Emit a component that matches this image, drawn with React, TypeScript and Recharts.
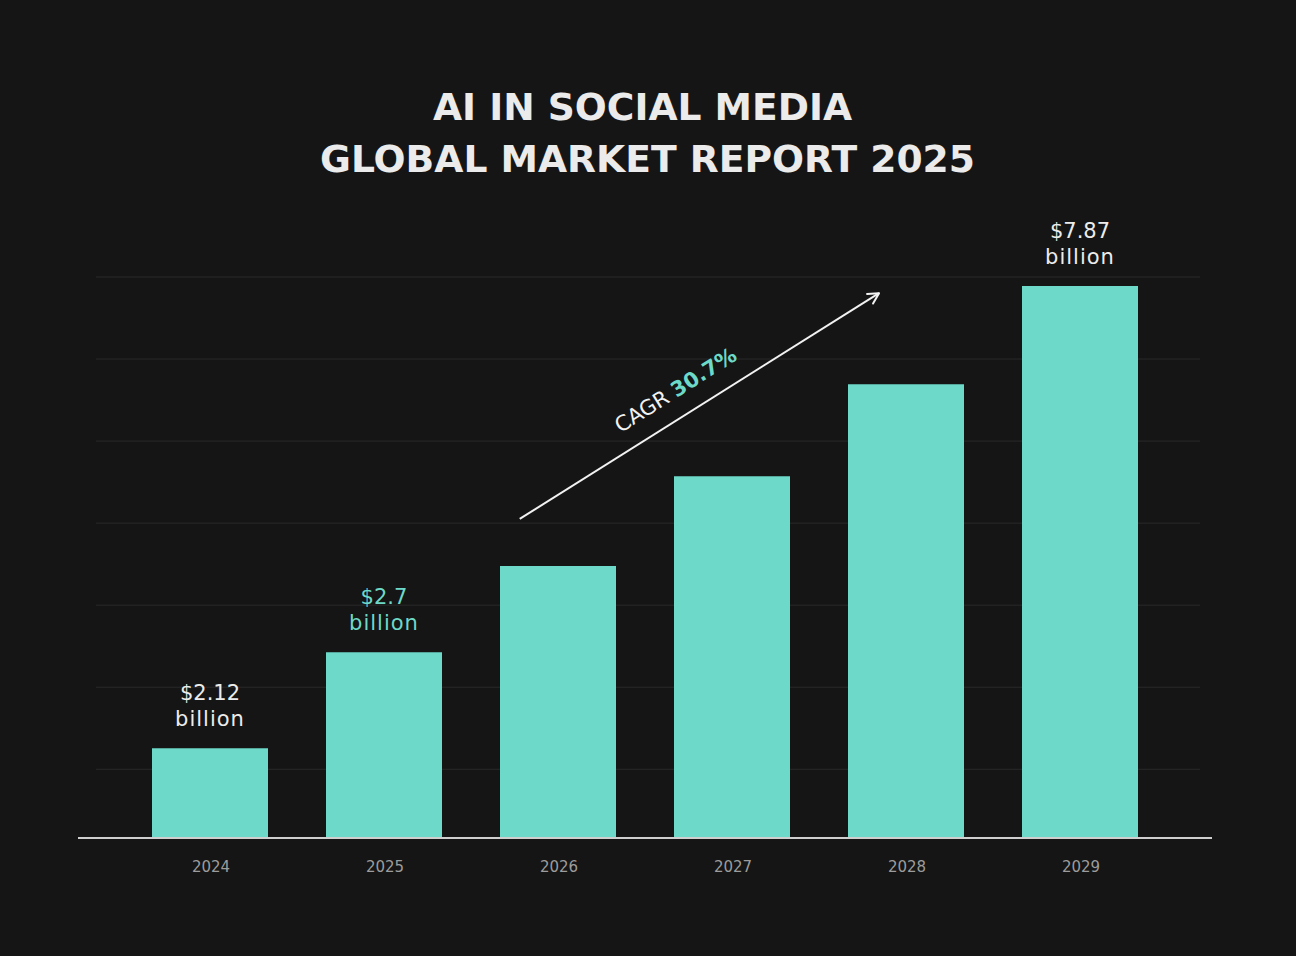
import React from 'react';
import { ComposedChart, Bar, XAxis, YAxis, ReferenceLine, LabelList } from 'recharts';

// ---- data ----
const years = ['2024', '2025', '2026', '2027', '2028', '2029'];
// bar heights as drawn (USD billion scale of the picture)
const barHeights = [1.28, 2.65, 3.88, 5.16, 6.47, 7.87];
const valueLabels = ['$2.12', '$2.7', '', '', '', '$7.87'];
const valueUnit = 'billion';
const labelColors = ['#ececec', '#6dd9c8', '', '', '', '#ececec'];
const slots = [0.5, 1.5, 2.5, 3.5, 4.5, 5.5];
const gridValues = [0.98, 2.15, 3.32, 4.49, 5.66, 6.83, 8];
const titleLines = ['AI IN SOCIAL MEDIA', 'GLOBAL MARKET REPORT 2025'];
const cagrLabel = 'CAGR';
const cagrValue = '30.7%';
const arrowStart = { x: 2.28, y: 4.55 };
const arrowEnd = { x: 4.345, y: 7.77 };
const gridExtent = [-0.155, 6.19];

const FONT = '"DejaVu Sans", "Open Sans", sans-serif';
const TEAL = '#6dd9c8';
const BG = '#151515';

const data = years.map((year, i) => ({ year, slot: slots[i], value: barHeights[i] }));

const renderValueLabel = (props: any) => {
  const { x, y, width } = props;
  let index = props.index;
  if (index === undefined || index === null) {
    index = barHeights.indexOf(Number(props.value));
  }
  const text = valueLabels[index];
  if (!text) return null;
  const cx = Number(x) + Number(width) / 2;
  const top = Number(y);
  return (
    <g>
      <text x={cx} y={top - 48} textAnchor="middle" fill={labelColors[index]} fontSize={21} fontFamily={FONT}>
        {text}
      </text>
      <text
        x={cx}
        y={top - 22.5}
        textAnchor="middle"
        fill={labelColors[index]}
        fontSize={21}
        fontFamily={FONT}
        letterSpacing={1}
      >
        {valueUnit}
      </text>
    </g>
  );
};

const renderGridLine = (props: any) => {
  const { x1, y1, x2, y2 } = props;
  return <line x1={x1} y1={y1} x2={x2} y2={y2} stroke="#2a2a2a" strokeWidth={1} />;
};

const renderArrow = (props: any) => {
  const x1 = Number(props.x1);
  const y1 = Number(props.y1);
  const x2 = Number(props.x2);
  const y2 = Number(props.y2);
  const dx = x2 - x1;
  const dy = y2 - y1;
  const len = Math.sqrt(dx * dx + dy * dy);
  const ux = dx / len;
  const uy = dy / len;
  const nx = uy;
  const ny = -ux;
  const angle = (Math.atan2(dy, dx) * 180) / Math.PI;
  const head = 12;
  const a = (28 * Math.PI) / 180;
  const bx = -ux;
  const by = -uy;
  const h1x = x2 + head * (bx * Math.cos(a) - by * Math.sin(a));
  const h1y = y2 + head * (bx * Math.sin(a) + by * Math.cos(a));
  const h2x = x2 + head * (bx * Math.cos(-a) - by * Math.sin(-a));
  const h2y = y2 + head * (bx * Math.sin(-a) + by * Math.cos(-a));
  const t = 131;
  const off = 19;
  const tx = x1 + ux * t + nx * off;
  const ty = y1 + uy * t + ny * off;
  return (
    <g>
      <line x1={x1} y1={y1} x2={x2} y2={y2} stroke="#f2f2f2" strokeWidth={2} />
      <polyline
        points={`${h1x},${h1y} ${x2},${y2} ${h2x},${h2y}`}
        fill="none"
        stroke="#f2f2f2"
        strokeWidth={2}
        strokeLinecap="round"
        strokeLinejoin="round"
      />
      <text x={tx} y={ty} transform={`rotate(${angle}, ${tx}, ${ty})`} fontSize={21} fontFamily={FONT}>
        <tspan fill="#f2f2f2">{cagrLabel} </tspan>
        <tspan fill={TEAL} fontWeight={700}>{cagrValue}</tspan>
      </text>
    </g>
  );
};

export default function App() {
  return (
    <div style={{ position: 'relative', width: 1296, height: 956, background: BG }}>
      <style>{`body{margin:0;background:${BG};}`}</style>
      <ComposedChart
        width={1296}
        height={956}
        data={data}
        margin={{ top: 277, right: 84, bottom: 88, left: 78 }}
      >
        <XAxis
          xAxisId="cat"
          dataKey="year"
          padding={{ left: 45, right: 45 }}
          axisLine={{ stroke: '#cfcfcf', strokeWidth: 2 }}
          tickLine={false}
          tickSize={0}
          tickMargin={23}
          height={30}
          interval={0}
          tick={{ fill: '#9c9c9c', fontSize: 15, fontFamily: FONT, dx: 1 }}
        />
        <XAxis
          xAxisId="num"
          dataKey="slot"
          type="number"
          domain={[0, 6]}
          padding={{ left: 45, right: 45 }}
          hide
          allowDataOverflow
        />
        <YAxis domain={[0, 8]} hide allowDataOverflow />
        {gridValues.map((g) => (
          <ReferenceLine
            key={g}
            xAxisId="num"
            segment={[
              { x: gridExtent[0], y: g },
              { x: gridExtent[1], y: g },
            ]}
            ifOverflow="visible"
            zIndex={-50}
            shape={renderGridLine}
          />
        ))}
        <Bar xAxisId="cat" dataKey="value" fill={TEAL} barSize={116} isAnimationActive={false}>
          <LabelList dataKey="value" content={renderValueLabel} />
        </Bar>
        <ReferenceLine
          xAxisId="num"
          segment={[arrowStart, arrowEnd]}
          ifOverflow="visible"
          shape={renderArrow}
        />
      </ComposedChart>
      <svg
        width={1296}
        height={220}
        style={{ position: 'absolute', left: 0, top: 0, pointerEvents: 'none' }}
      >
        <text
          x={642.5}
          y={120}
          textAnchor="middle"
          fill="#ebebeb"
          fontSize={37}
          fontWeight={700}
          fontFamily={FONT}
          textLength={419}
          lengthAdjust="spacingAndGlyphs"
        >
          {titleLines[0]}
        </text>
        <text
          x={647.5}
          y={172}
          textAnchor="middle"
          fill="#ebebeb"
          fontSize={37}
          fontWeight={700}
          fontFamily={FONT}
          textLength={655}
          lengthAdjust="spacingAndGlyphs"
        >
          {titleLines[1]}
        </text>
      </svg>
    </div>
  );
}
